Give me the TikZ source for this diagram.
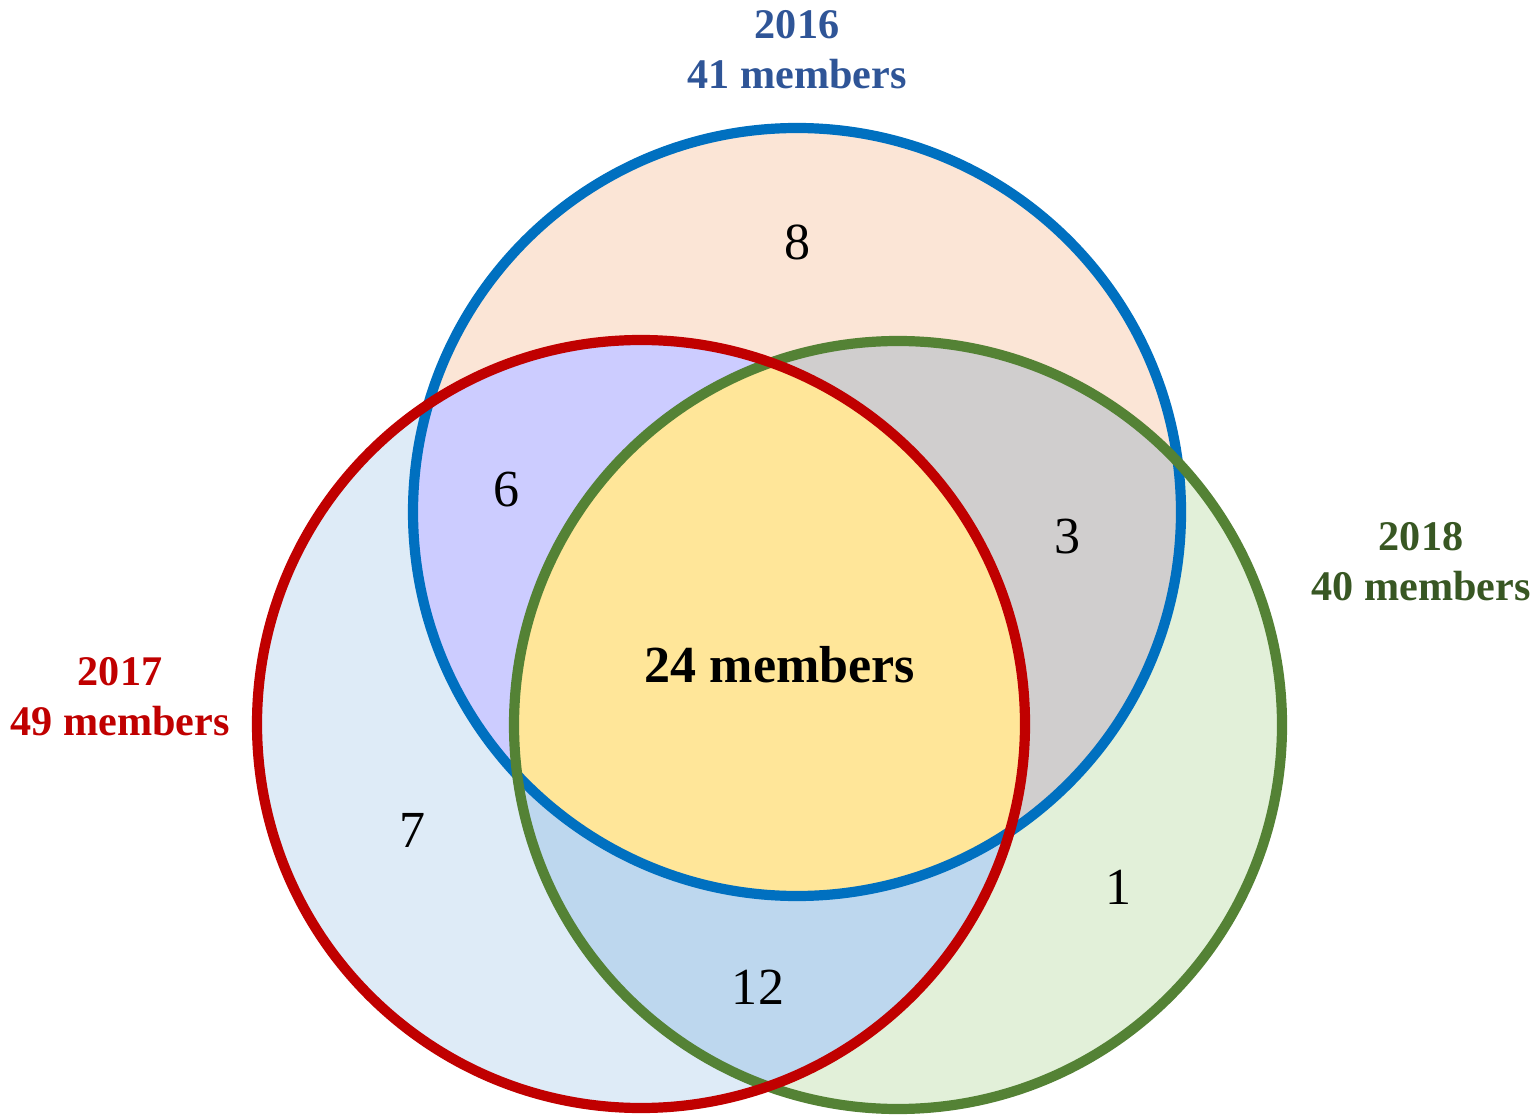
\documentclass[tikz,border=0pt]{standalone}
\usepackage{fontspec}
\setmainfont{Liberation Serif}
\usepackage{xcolor}

\definecolor{ringA}{HTML}{0070C0}
\definecolor{ringB}{HTML}{C00000}
\definecolor{ringC}{HTML}{548235}
\definecolor{textA}{HTML}{2F5597}
\definecolor{textC}{HTML}{385723}
\definecolor{onlyA}{HTML}{FBE5D6}
\definecolor{onlyB}{HTML}{DEEBF7}
\definecolor{onlyC}{HTML}{E2F0D9}
\definecolor{areaAB}{HTML}{CCCCFF}
\definecolor{areaAC}{HTML}{D0CECE}
\definecolor{areaBC}{HTML}{BDD7EE}
\definecolor{areaABC}{HTML}{FFE699}

\tikzset{
  ring/.style={line width=2.9pt},
  count/.style={font=\fontsize{14.8}{17}\selectfont, inner sep=0pt},
  yearlabel/.style={font=\fontsize{12}{14.2}\selectfont\bfseries, align=center, inner sep=0pt}
}

\begin{document}
\begin{tikzpicture}[x=0.01cm,y=-0.01cm]
\useasboundingbox (0,0) rectangle (1537,1116);

\coordinate (cA) at (797,512);
\coordinate (cB) at (641,724);
\coordinate (cC) at (898,725);

% plain areas
\fill[onlyA] (cA) circle (384);
\fill[onlyB] (cB) circle (384);
\fill[onlyC] (cC) circle (384);

% overlaps
\begin{scope}
  \clip (cA) circle (384);
  \fill[areaAB] (cB) circle (384);
  \fill[areaAC] (cC) circle (384);
\end{scope}
\begin{scope}
  \clip (cB) circle (384);
  \fill[areaBC] (cC) circle (384);
\end{scope}
\begin{scope}
  \clip (cA) circle (384);
  \clip (cB) circle (384);
  \fill[areaABC] (cC) circle (384);
\end{scope}

% rings
\draw[ring, ringA] (cA) circle (384);
\draw[ring, ringC] (cC) circle (384);
\draw[ring, ringB] (cB) circle (384);

% counts
\node [count] (nA) at (797,242) {8};
\node [count] (nAB) at (507,490) {6};
\node [count] (nAC) at (1067,537) {3};
\node [count, font=\fontsize{14.8}{17}\selectfont\bfseries] (nABC) at (780,665) {24 members};
\node [count] (nB) at (413,830) {7};
\node [count] (nBC) at (758,987) {12};
\node [count] (nC) at (1118,887) {1};

% year labels
\node [yearlabel, text=textA] (yA) at (797,50) {2016\\41 members};
\node [yearlabel, text=ringB] (yB) at (120,697) {2017\\49 members};
\node [yearlabel, text=textC] (yC) at (1421,562) {2018\\40 members};
\end{tikzpicture}
\end{document}
